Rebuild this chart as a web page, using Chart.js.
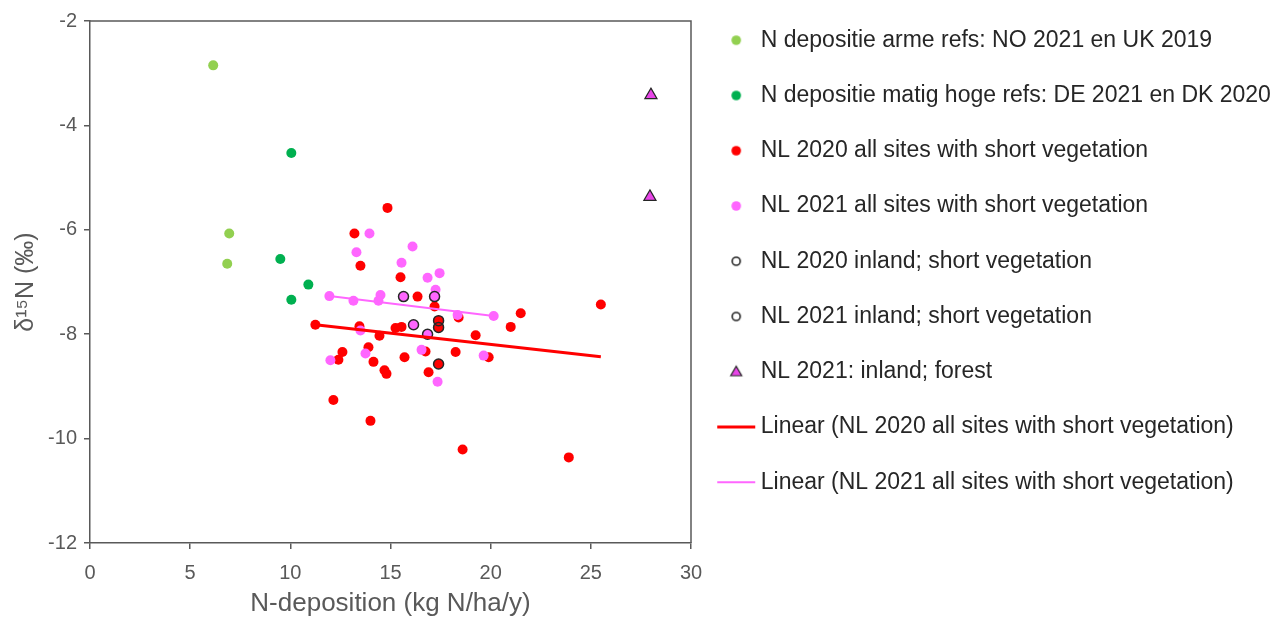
<!DOCTYPE html>
<html>
<head>
<meta charset="utf-8">
<script src="https://cdn.jsdelivr.net/npm/chart.js@4.4.1/dist/chart.umd.min.js"></script>
<style>
  html, body { margin: 0; padding: 0; background: #ffffff; }
  #wrap { width: 1287px; height: 621px; }
</style>
</head>
<body>
<div id="wrap"><canvas id="c" width="1287" height="621"></canvas></div>
<script>
// ---------- data ----------
const seriesNames = [
  'N depositie arme refs: NO 2021 en UK 2019',
  'N depositie matig hoge refs: DE 2021 en DK 2020',
  'NL 2020 all sites with short vegetation',
  'NL 2021 all sites with short vegetation',
  'NL 2020 inland; short vegetation',
  'NL 2021 inland; short vegetation',
  'NL 2021: inland; forest',
  'Linear (NL 2020 all sites with short vegetation)',
  'Linear (NL 2021 all sites with short vegetation)'
];

const poorRefsX = [6.15, 6.95, 6.85];
const poorRefsY = [-2.85, -6.07, -6.65];

const modRefsX = [10.05, 9.5, 10.9, 10.05];
const modRefsY = [-4.53, -6.56, -7.05, -7.34];

const nl2020X = [14.85, 13.2, 13.5, 15.5, 16.35, 17.2, 11.25, 13.45, 15.25, 15.55, 17.4, 17.4, 18.4, 19.25, 21.0, 21.5,
                 14.45, 13.9, 12.6, 12.4, 14.15, 15.7, 16.75, 18.25, 19.9, 17.4, 14.7, 14.8, 16.9, 12.15, 14.0, 18.6, 23.9, 25.5];
const nl2020Y = [-5.58, -6.07, -6.69, -6.91, -7.28, -7.47, -7.82, -7.85, -7.88, -7.86, -7.74, -7.87, -7.68, -8.02, -7.86, -7.6,
                 -8.03, -8.25, -8.34, -8.49, -8.53, -8.44, -8.33, -8.34, -8.44, -8.57, -8.69, -8.76, -8.73, -9.26, -9.66, -10.21, -10.36, -7.43];

const nl2021X = [13.95, 13.3, 16.1, 15.55, 16.85, 17.45, 17.25, 11.95, 13.15, 14.5, 14.4, 18.35, 20.15, 13.5, 16.55, 13.75, 12.0, 19.65, 17.35,
                 15.65, 17.2, 16.15, 16.85];
const nl2021Y = [-6.07, -6.43, -6.32, -6.63, -6.92, -6.83, -7.15, -7.27, -7.36, -7.25, -7.36, -7.63, -7.65, -7.93, -8.30, -8.37, -8.5, -8.41, -8.91,
                 -7.28, -7.28, -7.82, -8.0];

const inland2020X = [17.4, 17.4, 17.4];
const inland2020Y = [-7.74, -7.87, -8.57];

const inland2021X = [15.65, 17.2, 16.15, 16.85];
const inland2021Y = [-7.28, -7.28, -7.82, -8.0];

const forestX = [28.0, 27.95];
const forestY = [-3.42, -5.37];

const trend2020X = [11.25, 25.5];
const trend2020Y = [-7.82, -8.43];

const trend2021X = [11.95, 20.15];
const trend2021Y = [-7.27, -7.65];

const xTicks = [0, 5, 10, 15, 20, 25, 30];
const yTicks = [-12, -10, -8, -6, -4, -2];

// ---------- styles ----------
const FONT = "'Liberation Sans', Arial, Helvetica, sans-serif";
const C_LIGHTGREEN = '#92d050';
const C_DARKGREEN = '#00b050';
const C_RED = '#ff0000';
const C_PINK = '#ff66ff';
const C_TRI = '#e845e8';
const C_OUTLINE = '#262626';
const AXIS = '#595959';
const TEXT = '#262626';

function pts(xs, ys) { return xs.map((x, i) => ({ x: x, y: ys[i] })); }

// legend marker images
function markerCanvas(kind, color) {
  const cv = document.createElement('canvas');
  cv.width = 40; cv.height = 16;
  const g = cv.getContext('2d');
  const cx = 20, cy = 8;
  if (kind === 'dot') {
    g.fillStyle = color; g.beginPath(); g.arc(cx, cy, 4.8, 0, Math.PI * 2); g.fill();
  } else if (kind === 'ring') {
    g.strokeStyle = C_OUTLINE; g.lineWidth = 1.6; g.beginPath(); g.arc(cx, cy, 4, 0, Math.PI * 2); g.stroke();
  } else if (kind === 'tri') {
    g.fillStyle = color; g.strokeStyle = C_OUTLINE; g.lineWidth = 1.2;
    g.beginPath(); g.moveTo(cx, cy - 5.5); g.lineTo(cx + 5.5, cy + 4); g.lineTo(cx - 5.5, cy + 4); g.closePath();
    g.fill(); g.stroke();
  } else if (kind === 'line') {
    g.strokeStyle = color.c; g.lineWidth = color.w;
    g.beginPath(); g.moveTo(1, cy); g.lineTo(39, cy); g.stroke();
  }
  return cv;
}
const legendMarkers = [
  markerCanvas('dot', C_LIGHTGREEN),
  markerCanvas('dot', C_DARKGREEN),
  markerCanvas('dot', C_RED),
  markerCanvas('dot', C_PINK),
  markerCanvas('ring'),
  markerCanvas('ring'),
  markerCanvas('tri', C_TRI),
  markerCanvas('line', { c: C_RED, w: 3 }),
  markerCanvas('line', { c: C_PINK, w: 2 })
];

// legend width -> right padding so that the plot area ends where the reference does
const LEG_FONT_SIZE = 23, LEG_PAD = 32.25, LEG_BOX = 26;
const mctx = document.createElement('canvas').getContext('2d');
mctx.font = LEG_FONT_SIZE + "px " + FONT;
const maxTextW = Math.max(...seriesNames.map(s => mctx.measureText(s).width));
const PLOT_RIGHT = 691;
const legendW = LEG_PAD + LEG_BOX + LEG_FONT_SIZE / 2 + maxTextW + 10;
const padRight = Math.max(0, 1287 - PLOT_RIGHT - legendW);

const framePlugin = {
  id: 'frame',
  beforeDatasetsDraw(chart) {
    const a = chart.chartArea, g = chart.ctx;
    g.save();
    g.strokeStyle = AXIS; g.lineWidth = 1.5;
    g.beginPath();
    g.moveTo(a.left, a.top); g.lineTo(a.right, a.top); g.lineTo(a.right, a.bottom);
    g.stroke();
    g.restore();
  }
};

const datasets = [
  { label: seriesNames[0], data: pts(poorRefsX, poorRefsY), backgroundColor: C_LIGHTGREEN, borderWidth: 0, pointRadius: 5, order: 9 },
  { label: seriesNames[1], data: pts(modRefsX, modRefsY), backgroundColor: C_DARKGREEN, borderWidth: 0, pointRadius: 5, order: 8 },
  { label: seriesNames[2], data: pts(nl2020X, nl2020Y), backgroundColor: C_RED, borderWidth: 0, pointRadius: 5, order: 7 },
  { label: seriesNames[3], data: pts(nl2021X, nl2021Y), backgroundColor: C_PINK, borderWidth: 0, pointRadius: 5, order: 6 },
  { label: seriesNames[4], data: pts(inland2020X, inland2020Y), backgroundColor: 'rgba(0,0,0,0)', borderColor: C_OUTLINE, borderWidth: 1.5, pointRadius: 5, order: 5 },
  { label: seriesNames[5], data: pts(inland2021X, inland2021Y), backgroundColor: 'rgba(0,0,0,0)', borderColor: C_OUTLINE, borderWidth: 1.5, pointRadius: 5, order: 4 },
  { label: seriesNames[6], data: pts(forestX, forestY), backgroundColor: C_TRI, borderColor: C_OUTLINE, borderWidth: 1.2, pointStyle: 'triangle', pointRadius: 7, order: 3 },
  { label: seriesNames[7], data: pts(trend2020X, trend2020Y), showLine: true, borderColor: C_RED, borderWidth: 3, pointRadius: 0, fill: false, order: 2 },
  { label: seriesNames[8], data: pts(trend2021X, trend2021Y), showLine: true, borderColor: C_PINK, borderWidth: 2, pointRadius: 0, fill: false, order: 1 }
];

new Chart(document.getElementById('c'), {
  type: 'scatter',
  data: { datasets: datasets },
  plugins: [framePlugin],
  options: {
    responsive: false,
    animation: false,
    events: [],
    layout: { padding: { top: -3.5, right: padRight, bottom: 0, left: 0 } },
    plugins: {
      tooltip: { enabled: false },
      title: { display: false },
      legend: {
        display: true,
        position: 'right',
        align: 'start',
        maxWidth: 700,
        labels: {
          usePointStyle: true,
          pointStyleWidth: LEG_BOX,
          padding: LEG_PAD,
          color: TEXT,
          font: { family: FONT, size: LEG_FONT_SIZE },
          generateLabels: () => seriesNames.map((name, i) => ({
            text: name,
            datasetIndex: i,
            pointStyle: legendMarkers[i],
            fillStyle: 'rgba(0,0,0,0)',
            strokeStyle: 'rgba(0,0,0,0)',
            lineWidth: 0,
            hidden: false,
            fontColor: TEXT
          }))
        }
      }
    },
    scales: {
      x: {
        type: 'linear',
        position: 'bottom',
        min: 0, max: 30,
        afterBuildTicks: (s) => { s.ticks = xTicks.map(v => ({ value: v })); },
        afterFit: (s) => { s.height = 78; },
        grid: { display: true, drawOnChartArea: false, drawTicks: true, tickLength: 6, color: AXIS, lineWidth: 1.5 },
        border: { display: true, color: AXIS, width: 1.5 },
        ticks: { color: AXIS, font: { family: FONT, size: 20 }, padding: 12, maxRotation: 0 },
        title: { display: true, text: 'N-deposition (kg N/ha/y)', color: AXIS, font: { family: FONT, size: 26 }, padding: { top: 2, bottom: 1.5 } }
      },
      y: {
        type: 'linear',
        position: 'left',
        min: -12, max: -2,
        afterBuildTicks: (s) => { s.ticks = yTicks.map(v => ({ value: v })); },
        afterFit: (s) => { s.width = 90; s.paddingTop = 21; },
        grid: { display: true, drawOnChartArea: false, drawTicks: true, tickLength: 6, color: AXIS, lineWidth: 1.5 },
        border: { display: true, color: AXIS, width: 1.5 },
        ticks: { color: AXIS, font: { family: FONT, size: 20 }, padding: 7 },
        title: { display: true, text: 'δ¹⁵N (‰)', color: AXIS, font: { family: FONT, size: 25 }, padding: { top: 11, bottom: 2 } }
      }
    }
  }
});
</script>
</body>
</html>
